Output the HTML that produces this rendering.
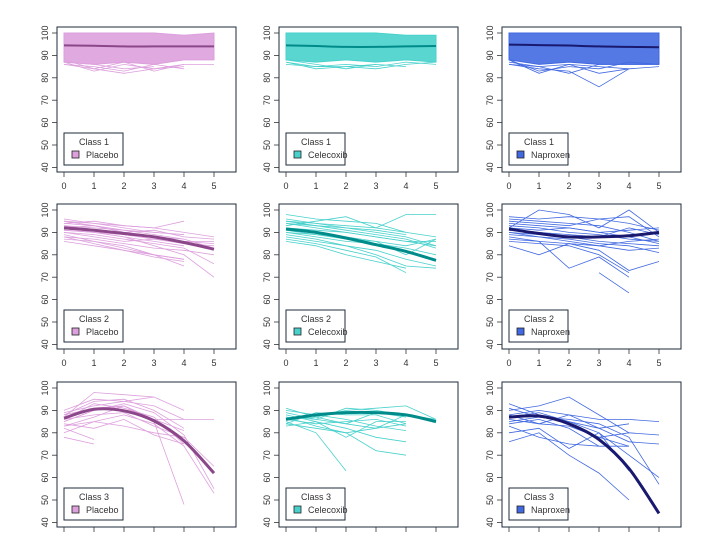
<!DOCTYPE html>
<html><head><meta charset="utf-8">
<style>
html,body{margin:0;padding:0;background:#fff;}
svg{display:block;font-family:"Liberation Sans",sans-serif;}
</style></head>
<body>
<svg id="chart" width="720" height="540" viewBox="0 0 720 540" xmlns="http://www.w3.org/2000/svg"></svg>
<script>
const xTicks = [0,1,2,3,4,5];
const yTicks = [40,50,60,70,80,90,100];
const classNames = ["Class 1","Class 2","Class 3"];
const drugNames = ["Placebo","Celecoxib","Naproxen"];
const lineColors = ["#dda0dd","#48d1cc","#4169e1"];
const meanColors = ["#8b4789","#008b8b","#191970"];

// class 1 envelopes (dense band) + mean
const c1BandHigh = [[100,100,100,100,99,100],[100,100,100,100,99,99],[100,100,100,100,100,100]];
const c1BandLow = [[87,86,87,86,88,88],[88,87,88,87,88,87],[88,86,87,86,86,86]];
const c1Mean = [[94.5,94.3,94,94,94,94],[94.5,94.2,93.8,93.8,94,94.2],[94.8,94.6,94.4,94,93.8,93.6]];
const c1Placebo = [[87,83,86,84,85],[86,85,83,86,84],[88,84,82,84,86],[87,86,84,85],[86,84,87,83,86,86]];
const c1Celecoxib = [[87,84,85,86,85],[86,85,85,84,86,87],[88,86,84,86],[87,85,86,85,87,86]];
const c1Naproxen = [[88,82,86,85,84],[86,84,83,76,84],[87,85,86,82,84,85],[88,83,85,84,87,86],[86,85,82,86,86,86]];

// class 2
const c2Mean = [[92,91,89.5,88,85.5,82.5],[91.5,90,87.5,84.5,81.5,77.5],[91.5,89.5,88,88,88.5,90]];
const c2Placebo = [
 [95,94,93,92,90,88],[92,93,90,91,88,87],[90,88,86,87,85,84],[93,92,91,89,87],[88,87,85,83,82,80],
 [96,94,92,90,89],[91,90,88,84,80,70],[89,86,84,80,78],[94,95,93,92,95],[90,89,87,85,83,76],
 [87,86,83,80,75],[93,91,89,87,86,85],[92,90,88,86,84],[95,93,90,88,87,83],[88,85,82,79,77],
 [91,90,89,88,86,86],[86,84,82,80,78],[94,93,91,90,89]];
const c2Celecoxib = [
 [98,96,95,94,90,88],[95,94,93,92,98,98],[92,91,90,88,86,84],[90,88,86,85,83,80],[94,92,90,88,86,86],
 [88,86,84,82,78,75],[93,95,97,92,90],[96,94,92,90,88,84],[89,87,84,80,75,74],[91,89,88,86,84,87],
 [87,85,82,79,72],[95,93,91,89,87,83],[90,89,87,86,80,87],[92,90,88,85,82,78],[86,84,80,77,74],[94,93,92,91,89]];
const c2Naproxen = [
 [97,96,97,96,97,88],[94,93,92,90,88,85],[90,88,86,84,82,83],[86,85,84,80,72],[92,100,98,92,100,90],
 [95,94,93,96,94,91],[88,86,74,79,70],[91,90,89,88,92,89],[84,80,85,82,73,77],[93,92,90,89,87,86],
 [89,88,87,85,84,81],[96,95,94,93,90,86],[87,86,85,84,86,87],[90,89,88,86,85,84],[92,91,92,90,91,92]];
const c2NapShort = [[null,null,null,72,63]];

// class 3
const c3Mean = [[86.5,90.5,89.8,85.3,76.4,62],[86,88,89,89,88,85],[87,87.5,84,77,64,44]];
const c3Placebo = [
 [87,98,97,96],[88,91,92,86,81],[85,90,93,89,79,55],[90,95,94,92,86],[83,85,88,84,74,53],
 [86,93,91,87,75],[89,92,94,96,90],[84,82,86,79,75],[78,75],[82,77],[86,88,89,83,78,65],
 [88,94,95,90,82],[83,87,92,85,48],[85,90,92,86,86,86],[80,85,83,80,78]];
const c3Celecoxib = [
 [91,87,84,82,88,86],[88,85,78,85,85],[86,87,90,91,92,86],[84,89,88,88,84],[87,83,80,72,70],
 [89,86,84,89,87],[83,85,82,78,76],[85,80,63],[90,88,86,83,81],[86,84,85,86,83],[87,86,91,90,88],
 [84,82,80,82,84]];
const c3Naproxen = [
 [93,88,84,78,74],[90,92,96,88,80,79],[86,84,88,86,86],[84,86,82,74,74],[88,90,88,82,76,75],
 [76,80,70,62,50],[85,87,86,84,78,57],[91,87,85,80,70,60],[80,82,73,80,63],[88,84,83,78,80],
 [83,78,75,74],[87,89,85,82,84],[null,null,null,null,86,85]];

const svg = document.getElementById('chart');
const NS = 'http://www.w3.org/2000/svg';
const colL = [57,279,502], rowT = [27,204,382];
const boxW = 179, boxH = 145;

function el(tag, attrs, parent){
  const e = document.createElementNS(NS, tag);
  for (const k in attrs) e.setAttribute(k, attrs[k]);
  parent.appendChild(e);
  return e;
}
function xScale(c, v){ return colL[c] + 7 + v*30; }
function yScale(r, v){ return rowT[r] + 6 + (100 - v)*2.24; }
function pathFor(r, c, arr){
  let d = '', pen = false;
  arr.forEach((v,i)=>{
    if (v === null || v === undefined){ pen = false; return; }
    d += (pen ? 'L' : 'M') + xScale(c,i).toFixed(1) + ',' + yScale(r,v).toFixed(1);
    pen = true;
  });
  return d;
}
function smoothPath(r, c, arr){
  const pts = arr.map((v,i)=>[xScale(c,i), yScale(r,v)]);
  let d = 'M' + pts[0][0] + ',' + pts[0][1];
  for (let i=0;i<pts.length-1;i++){
    const p0 = pts[Math.max(0,i-1)], p1 = pts[i], p2 = pts[i+1], p3 = pts[Math.min(pts.length-1,i+2)];
    const c1x = p1[0] + (p2[0]-p0[0])/6, c1y = p1[1] + (p2[1]-p0[1])/6;
    const c2x = p2[0] - (p3[0]-p1[0])/6, c2y = p2[1] - (p3[1]-p1[1])/6;
    d += 'C' + c1x.toFixed(1) + ',' + c1y.toFixed(1) + ' ' + c2x.toFixed(1) + ',' + c2y.toFixed(1) + ' ' + p2[0].toFixed(1) + ',' + p2[1].toFixed(1);
  }
  return d;
}

const lineSets = [
  [c1Placebo, c1Celecoxib, c1Naproxen],
  [c2Placebo, c2Celecoxib, c2Naproxen.concat(c2NapShort)],
  [c3Placebo, c3Celecoxib, c3Naproxen]
];
const meanSets = [c1Mean, c2Mean, c3Mean];

for (let r=0; r<3; r++){
  for (let c=0; c<3; c++){
    const g = el('g', {}, svg);
    
    
    const L = colL[c], T = rowT[r];
    if (r === 0){
      let d = '';
      c1BandHigh[c].forEach((v,i)=>{ d += (i?'L':'M') + xScale(c,i) + ',' + yScale(r,v); });
      for (let i=c1BandLow[c].length-1;i>=0;i--) d += 'L' + xScale(c,i) + ',' + yScale(r,c1BandLow[c][i]);
      const band = el('path', {d: d+'Z', fill: lineColors[c], 'fill-opacity':0.9, stroke: lineColors[c], 'stroke-width':1}, g);
      
      
    }
    lineSets[r][c].forEach(arr=>{
      const p = el('path', {d: pathFor(r,c,arr), fill:'none', stroke: lineColors[c], 'stroke-width':0.8}, g);
      
      
    });
    const m = el('path', {d: smoothPath(r,c,meanSets[r][c]), fill:'none', stroke: meanColors[c], 'stroke-width': r===0?2:3}, g);
    
    

    const box = el('rect', {x:L, y:T, width:boxW, height:boxH, fill:'none', stroke:'#1c2b3a', 'stroke-width':1}, g);
    
    

    yTicks.forEach(t=>{
      const y = yScale(r,t);
      el('line', {x1:L-5, x2:L, y1:y, y2:y, stroke:'#333', 'stroke-width':0.8}, g);
      const tx = el('text', {x:0, y:0, 'font-size':9, fill:'#333', 'text-anchor':'middle',
        transform:'translate(' + (L-9) + ',' + y + ') rotate(-90)'}, g);
      
      
      tx.textContent = t;
    });
    xTicks.forEach(t=>{
      const x = xScale(c,t);
      el('line', {x1:x, x2:x, y1:T+boxH, y2:T+boxH+5, stroke:'#333', 'stroke-width':0.8}, g);
      if (r < 2){
        const tx = el('text', {x:x, y:T+boxH+17, 'font-size':9, fill:'#333', 'text-anchor':'middle'}, g);
        
        
        tx.textContent = t;
      }
    });
    const lg = el('g', {}, g);
    
    
    const lx = L+7, ly = T+106;
    el('rect', {x:lx, y:ly, width:59, height:32, fill:'#fff', stroke:'#1c2b3a', 'stroke-width':1}, lg);
    const lt = el('text', {x:lx+30, y:ly+12, 'font-size':9, fill:'#333', 'text-anchor':'middle'}, lg);
    
    
    lt.textContent = classNames[r];
    const sw = el('rect', {x:lx+8, y:ly+18, width:7, height:7, fill:lineColors[c], stroke:'#222', 'stroke-width':0.8}, lg);
    
    
    const ll = el('text', {x:lx+22, y:ly+25, 'font-size':9, fill:'#333'}, lg);
    
    
    ll.textContent = drugNames[c];
  }
}
</script>
</body></html>
